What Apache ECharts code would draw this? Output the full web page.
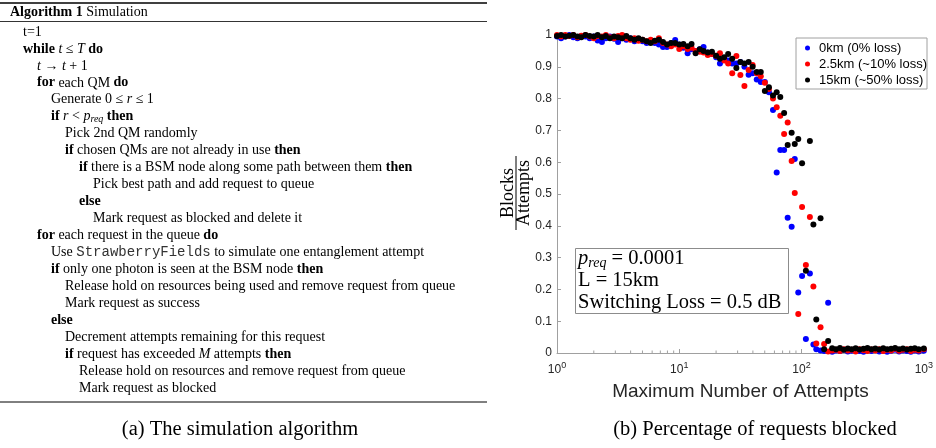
<!DOCTYPE html>
<html>
<head>
<meta charset="utf-8">
<title>Simulation and blocked requests</title>
<script src="https://cdn.jsdelivr.net/npm/echarts@6.0.0/dist/echarts.min.js"></script>
<style>
html, body { margin: 0; padding: 0; background: #fff; }
#fig { width: 936px; height: 448px; }
</style>
</head>
<body>
<div id="fig"></div>
<script>
// maximum number of attempts, shared by the three runs
var attempts = [
  1, 1.08, 1.17, 1.26, 1.36, 1.47, 1.58, 1.71, 1.85, 2,
  2.15, 2.33, 2.51, 2.71, 2.93, 3.16, 3.41, 3.69, 3.98, 4.3,
  4.64, 5.01, 5.41, 5.84, 6.31, 6.81, 7.36, 7.94, 8.58, 9.26,
  10, 10.8, 11.7, 12.6, 13.6, 14.7, 15.8, 17.1, 18.5, 20,
  21.5, 23.3, 25.1, 27.1, 29.3, 31.6, 34.1, 36.9, 39.8, 43,
  46.4, 50.1, 54.1, 58.4, 62.6, 67, 72, 77, 83, 88,
  94, 101, 108.5, 117, 125, 132, 143, 153, 165, 178,
  191, 206, 222, 239, 257, 277, 298, 321, 346, 373,
  401, 432, 466, 501, 540, 582, 627, 675, 727, 783,
  843, 908, 1000
];
// blocks / attempts
var loss0 = [
  0.995, 0.99, 0.995, 1.0, 0.993, 0.99, 0.997, 0.995, 0.99, 0.995,
  0.983, 0.978, 0.99, 0.995, 0.988, 0.978, 0.99, 0.985, 0.99, 0.98,
  0.985, 0.98, 0.975, 0.98, 0.975, 0.97, 0.962, 0.962, 0.975, 0.984,
  0.97, 0.96, 0.943, 0.955, 0.95, 0.955, 0.962, 0.945, 0.94, 0.93,
  0.91, 0.925, 0.92, 0.91, 0.91, 0.915, 0.9, 0.875, 0.88, 0.86,
  0.852, 0.852, 0.82, 0.764, 0.568, 0.638, 0.638, 0.425, 0.397, 0.61,
  0.19, 0.242, 0.044, 0.25, 0.027, 0.012, 0.008, 0.006, 0.158, 0.004,
  0.008, 0.006, 0.01, 0.005, 0.007, 0.012, 0.006, 0.004, 0.009, 0.006,
  0.01, 0.005, 0.008, 0.004, 0.007, 0.01, 0.005, 0.008, 0.006, 0.004,
  0.008, 0.005, 0.007
];
var loss10 = [
  1.0, 0.995, 1.0, 0.997, 1.0, 0.993, 0.998, 1.0, 0.995, 0.99,
  0.997, 0.995, 1.0, 0.993, 0.99, 0.997, 1.0, 0.99, 0.985, 0.99,
  0.982, 0.985, 0.98, 0.985, 0.98, 0.99, 0.975, 0.97, 0.965, 0.97,
  0.956, 0.965, 0.956, 0.96, 0.95, 0.947, 0.945, 0.937, 0.94, 0.935,
  0.943, 0.92, 0.91, 0.88, 0.934, 0.874, 0.84, 0.89, 0.906, 0.88,
  0.87, 0.85, 0.83, 0.8, 0.773, 0.746, 0.689, 0.725, 0.604, 0.503,
  0.123, 0.459, 0.277, 0.428, 0.209, 0.03, 0.081, 0.028, 0.005, 0.008,
  0.01, 0.006, 0.012, 0.008, 0.01, 0.005, 0.012, 0.009, 0.006, 0.011,
  0.008, 0.012, 0.006, 0.01, 0.008, 0.013, 0.007, 0.01, 0.012, 0.006,
  0.01, 0.008, 0.012
];
var loss50 = [
  0.997, 1.0, 0.995, 0.998, 1.0, 0.995, 0.993, 1.0, 0.997, 0.995,
  1.0, 0.993, 0.997, 0.99, 0.995, 0.993, 0.99, 0.997, 0.99, 0.985,
  0.99, 0.985, 0.98, 0.975, 0.982, 0.985, 0.978, 0.97, 0.975, 0.975,
  0.97, 0.972, 0.965, 0.972, 0.943, 0.955, 0.95, 0.945, 0.947, 0.935,
  0.925, 0.93, 0.94, 0.925, 0.896, 0.915, 0.91, 0.915, 0.9, 0.884,
  0.884, 0.824, 0.836, 0.81, 0.82, 0.805, 0.755, 0.654, 0.693, 0.657,
  0.673, 0.597, 0.259, 0.667, 0.404, 0.105, 0.424, 0.012, 0.038, 0.015,
  0.012, 0.016, 0.01, 0.014, 0.012, 0.015, 0.011, 0.013, 0.016, 0.012,
  0.014, 0.011, 0.015, 0.012, 0.013, 0.016, 0.012, 0.014, 0.011, 0.013,
  0.015, 0.012, 0.014
];
var seriesNames = ['0km (0% loss)', '2.5km (~10% loss)', '15km (~50% loss)'];
var seriesColors = ['#0000ff', '#ff0000', '#000000'];
var minorTicks = [2, 3, 4, 5, 6, 7, 8, 9, 20, 30, 40, 50, 60, 70, 80, 90,
  200, 300, 400, 500, 600, 700, 800, 900];

var boxLines = ['{i|p}{s|req}{n| = 0.0001}', 'L = 15km', 'Switching Loss = 0.5 dB'];

// [indent level, text]
var algoLines = [
  [1, 't=1'],
  [1, '{b|while} {i|t} \u2264 {i|T} {b|do}'],
  [2, '{i|t} \u2192 {i|t} + 1'],
  [2, '{b|for} each QM {b|do}'],
  [3, 'Generate 0 \u2264 {i|r} \u2264 1'],
  [3, '{b|if} {i|r} < {i|p}{s|req} {b|then}'],
  [4, 'Pick 2nd QM randomly'],
  [4, '{b|if} chosen QMs are not already in use {b|then}'],
  [5, '{b|if} there is a BSM node along some path between them {b|then}'],
  [6, 'Pick best path and add request to queue'],
  [5, '{b|else}'],
  [6, 'Mark request as blocked and delete it'],
  [2, '{b|for} each request in the queue {b|do}'],
  [3, 'Use {m|StrawberryFields} to simulate one entanglement attempt'],
  [3, '{b|if} only one photon is seen at the BSM node {b|then}'],
  [4, 'Release hold on resources being used and remove request from queue'],
  [4, 'Mark request as success'],
  [3, '{b|else}'],
  [4, 'Decrement attempts remaining for this request'],
  [4, '{b|if} request has exceeded {i|M} attempts {b|then}'],
  [5, 'Release hold on resources and remove request from queue'],
  [5, 'Mark request as blocked']
];

var serif = 'Liberation Serif';
var sans = 'Liberation Sans';

var algoRich = {
  n: { fontFamily: serif, fontSize: 14, fill: '#000', verticalAlign: 'middle' },
  b: { fontFamily: serif, fontSize: 14, fontWeight: 'bold', fill: '#000', verticalAlign: 'middle' },
  i: { fontFamily: serif, fontSize: 14, fontStyle: 'italic', fill: '#000', verticalAlign: 'middle' },
  s: { fontFamily: serif, fontSize: 10, fontStyle: 'italic', fill: '#000', verticalAlign: 'middle', padding: [6, 0, 0, 0] },
  m: { fontFamily: 'Liberation Mono', fontSize: 14, fill: '#333', verticalAlign: 'middle' }
};
var boxRich = {
  n: { fontFamily: serif, fontSize: 20.5, fill: '#000', verticalAlign: 'middle' },
  i: { fontFamily: serif, fontSize: 20.5, fontStyle: 'italic', fill: '#000', verticalAlign: 'middle' },
  s: { fontFamily: serif, fontSize: 14, fontStyle: 'italic', fill: '#000', verticalAlign: 'middle', padding: [9, 0, 0, 0] }
};

function rule(y, w) {
  return { type: 'line', silent: true, shape: { x1: 0, y1: y, x2: 487, y2: y },
    style: { stroke: '#000', lineWidth: w } };
}

var elements = [];
elements.push(rule(3, 1.5));
elements.push(rule(21.5, 0.8));
elements.push(rule(402, 1));
elements.push({ type: 'text', x: 10, y: 12.5, silent: true,
  style: { text: '{b|Algorithm 1} Simulation', rich: algoRich, fontFamily: serif, fontSize: 14,
    fill: '#000', verticalAlign: 'middle' } });
algoLines.forEach(function (l, i) {
  elements.push({ type: 'text', x: 23 + (l[0] - 1) * 14, y: 32 + i * 16.95, silent: true,
    style: { text: l[1], rich: algoRich, fontFamily: serif, fontSize: 14, fill: '#000',
      verticalAlign: 'middle' } });
});

// captions
elements.push({ type: 'text', x: 240, y: 430, silent: true,
  style: { text: '(a) The simulation algorithm', fontFamily: serif, fontSize: 20.5, fill: '#000',
    align: 'center', verticalAlign: 'middle' } });
elements.push({ type: 'text', x: 755, y: 430, silent: true,
  style: { text: '(b) Percentage of requests blocked', fontFamily: serif, fontSize: 20.5, fill: '#000',
    align: 'center', verticalAlign: 'middle' } });

// parameter box
elements.push({ type: 'rect', silent: true, shape: { x: 575.5, y: 248.5, width: 213, height: 65 },
  style: { fill: '#fff', stroke: '#8c8c8c', lineWidth: 1 }, z: 5 });
boxLines.forEach(function (t, i) {
  elements.push({ type: 'text', x: 578, y: 258.5 + i * 22, silent: true, z: 6,
    style: { text: t, rich: boxRich, fontFamily: serif, fontSize: 20.5, fill: '#000',
      verticalAlign: 'middle' } });
});

// y axis title as a fraction
elements.push({ type: 'group', x: 516, y: 193, rotation: Math.PI / 2, silent: true, children: [
  { type: 'text', x: 0, y: -8, style: { text: 'Blocks', fontFamily: serif, fontSize: 18, fill: '#000',
    align: 'center', verticalAlign: 'middle' } },
  { type: 'line', shape: { x1: -37, y1: 0, x2: 37, y2: 0 }, style: { stroke: '#000', lineWidth: 1 } },
  { type: 'text', x: 0, y: 8, style: { text: 'Attempts', fontFamily: serif, fontSize: 18, fill: '#000',
    align: 'center', verticalAlign: 'middle' } }
] });

var axisGray = '#a0a0a0';
var scatterSeries = [loss0, loss10, loss50].map(function (ys, k) {
  return {
    name: seriesNames[k],
    type: 'scatter',
    symbolSize: 6,
    itemStyle: { color: seriesColors[k], opacity: 1 },
    data: attempts.map(function (x, i) { return [x, ys[i]]; }),
    z: 3 + k
  };
});

var option = {
  animation: false,
  backgroundColor: '#fff',
  grid: { left: 557, right: 8, top: 35, bottom: 95 },
  legend: {
    data: seriesNames,
    orient: 'vertical',
    left: 796,
    top: 38,
    icon: 'circle',
    itemWidth: 5,
    itemHeight: 5,
    itemGap: 0,
    padding: [2, 0, 1, 9],
    borderColor: '#a0a0a0',
    borderWidth: 1,
    backgroundColor: '#fff',
    textStyle: { fontFamily: sans, fontSize: 13, color: '#000', lineHeight: 16, padding: [0, 0, 0, 4] }
  },
  xAxis: {
    type: 'log',
    logBase: 10,
    min: 1,
    max: 1000,
    name: 'Maximum Number of Attempts',
    nameLocation: 'middle',
    nameGap: 29,
    nameTextStyle: { fontFamily: sans, fontSize: 19, color: '#262626' },
    axisLine: { lineStyle: { color: axisGray } },
    axisTick: { inside: true, length: 4, lineStyle: { color: axisGray } },
    splitLine: { show: false },
    axisLabel: {
      margin: 8,
      formatter: function (v) { return '{b|10}{e|' + Math.round(Math.log10(v)) + '}'; },
      rich: {
        b: { fontFamily: sans, fontSize: 12, color: '#262626', verticalAlign: 'middle' },
        e: { fontFamily: sans, fontSize: 9, color: '#262626', verticalAlign: 'middle', padding: [0, 0, 8, 0] }
      }
    }
  },
  yAxis: {
    type: 'value',
    min: 0,
    max: 1,
    interval: 0.1,
    axisLine: { show: true, lineStyle: { color: axisGray } },
    axisTick: { show: true, inside: true, length: 4, lineStyle: { color: axisGray } },
    splitLine: { show: false },
    axisLabel: { margin: 5, fontFamily: sans, fontSize: 12, color: '#262626' }
  },
  graphic: { elements: elements },
  series: [{
    type: 'custom',
    silent: true,
    z: 1,
    data: minorTicks.map(function (v) { return [v, 0]; }),
    renderItem: function (params, api) {
      var p = api.coord([api.value(0), 0]);
      return { type: 'line', shape: { x1: p[0], y1: p[1], x2: p[0], y2: p[1] - 2.5 },
        style: { stroke: axisGray, lineWidth: 1 } };
    }
  }].concat(scatterSeries)
};

var chart = echarts.init(document.getElementById('fig'));
chart.setOption(option);
</script>
</body>
</html>
